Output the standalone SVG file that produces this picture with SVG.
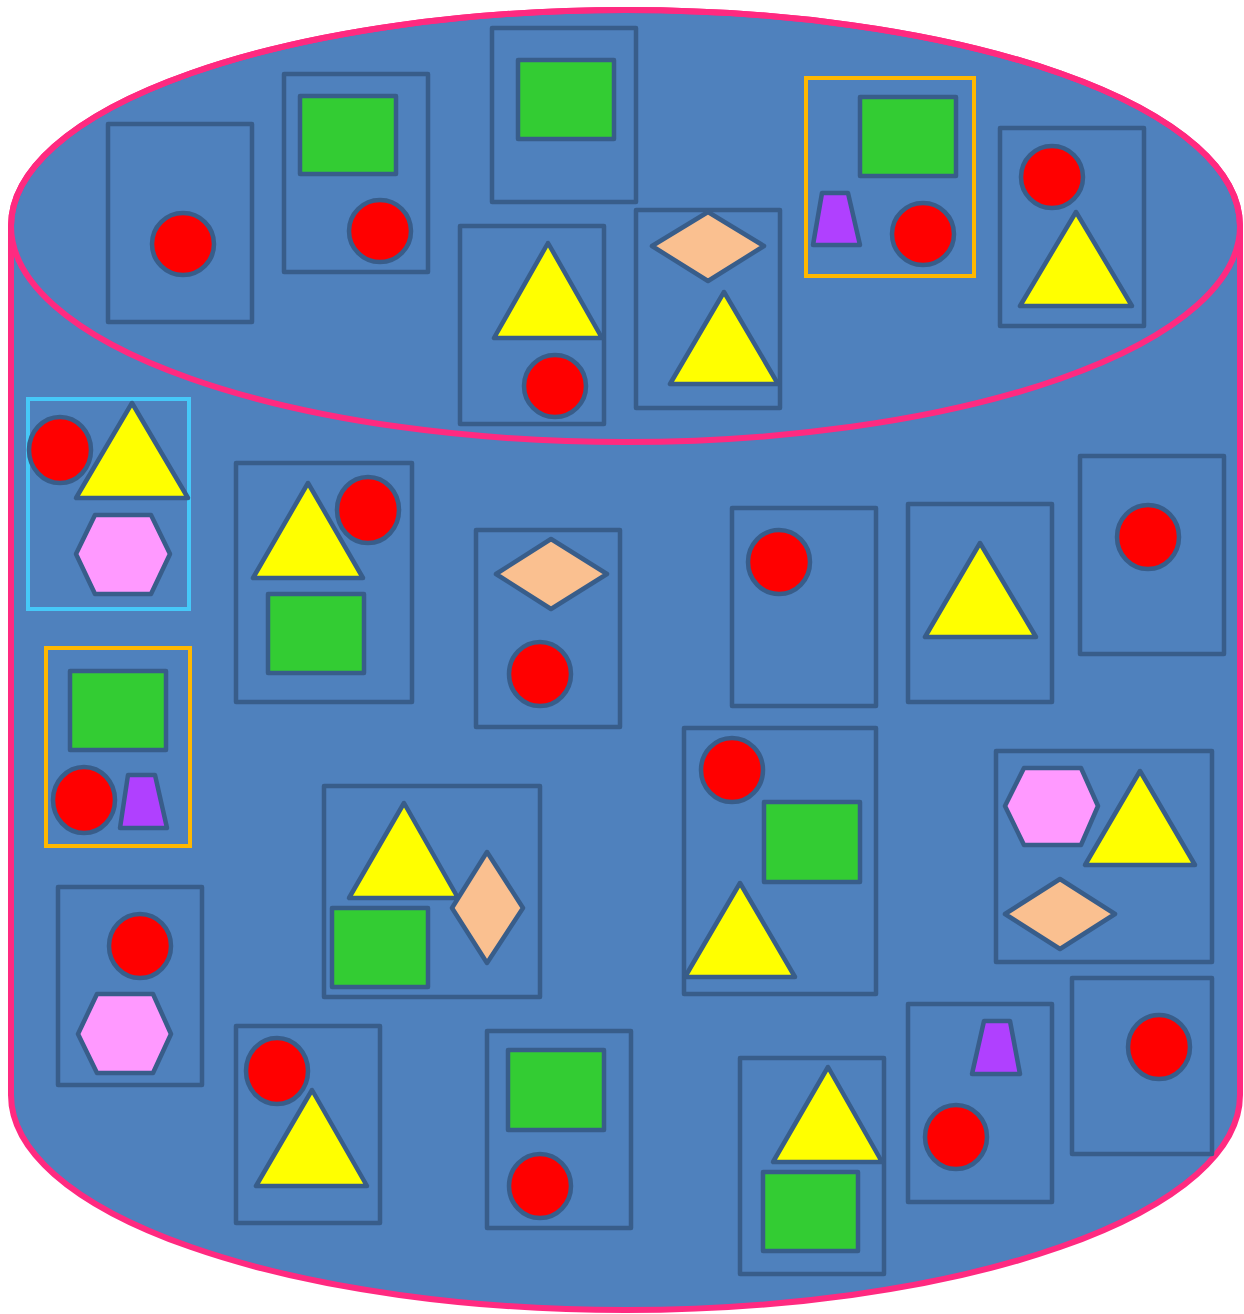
<svg xmlns="http://www.w3.org/2000/svg" width="1244" height="1314" viewBox="0 0 1244 1314">
<style>
.cyl{fill:#4F81BD;stroke:#FF2A80;stroke-width:6}
.top{fill:none;stroke:#FF2A80;stroke-width:6}
.card{fill:none;stroke:#385D8A;stroke-width:4.5;stroke-linejoin:round}
.ocard{fill:none;stroke:#FFB800;stroke-width:4}
.ccard{fill:none;stroke:#46C8F8;stroke-width:4}
.s{stroke:#385D8A;stroke-width:4.5;stroke-linejoin:round}
.r{fill:#FF0000}
.g{fill:#33CC33}
.y{fill:#FFFF00}
.p{fill:#FAC090}
.h{fill:#FF99FF}
.t{fill:#B040FF}
</style>
<g id="cylinder">
<path class="cyl" d="M11,226 A614.5,216 0 0 1 1240,226 L1240,1095 A614.5,215 0 0 1 11,1095 Z"/>
<ellipse class="top" cx="625.5" cy="226" rx="614.5" ry="216"/>
</g>
<g id="card1"><rect class="card" x="108" y="124" width="144" height="198"/><circle class="s r" cx="183" cy="244" r="31"/></g>
<g id="card2"><rect class="card" x="284" y="74" width="144" height="198"/><rect class="s g" x="300" y="96" width="96" height="78"/><circle class="s r" cx="380" cy="231" r="31"/></g>
<g id="card3"><rect class="card" x="492" y="28" width="144" height="174"/><rect class="s g" x="518" y="60" width="96" height="79"/></g>
<g id="card4"><rect class="card" x="460" y="226" width="144" height="198"/><polygon class="s y" points="548,243 494,338 602,338"/><circle class="s r" cx="555" cy="386" r="31"/></g>
<g id="card5"><rect class="card" x="636" y="210" width="144" height="198"/><polygon class="s p" points="708,212 764,246 708,281 652,246"/><polygon class="s y" points="724,292 670,384 778,384"/></g>
<g id="card6"><rect class="ocard" x="806" y="78" width="168" height="198"/><rect class="s g" x="860" y="97" width="96" height="79"/><polygon class="s t" points="822,193 848,193 860,245 813,245"/><circle class="s r" cx="923" cy="234" r="31"/></g>
<g id="card7"><rect class="card" x="1000" y="128" width="144" height="198"/><circle class="s r" cx="1052" cy="177" r="31"/><polygon class="s y" points="1076,212 1020,306 1132,306"/></g>
<g id="card8"><rect class="ccard" x="28" y="399" width="161" height="210"/><ellipse class="s r" cx="60" cy="450" rx="31" ry="33"/><polygon class="s y" points="132,403 76,498 188,498"/><polygon class="s h" points="76,554 95,515 151,515 170,554 151,594 95,594"/></g>
<g id="card9"><rect class="card" x="236" y="463" width="176" height="239"/><polygon class="s y" points="308,483 253,578 363,578"/><ellipse class="s r" cx="368" cy="510" rx="31" ry="33"/><rect class="s g" x="268" y="594" width="96" height="79"/></g>
<g id="card10"><rect class="card" x="476" y="530" width="144" height="197"/><polygon class="s p" points="551,539 607,574 551,609 496,574"/><ellipse class="s r" cx="540" cy="674" rx="31" ry="32"/></g>
<g id="card11"><rect class="card" x="732" y="508" width="144" height="198"/><ellipse class="s r" cx="779" cy="562" rx="31" ry="32"/></g>
<g id="card12"><rect class="card" x="908" y="504" width="144" height="198"/><polygon class="s y" points="980,543 925,637 1036,637"/></g>
<g id="card13"><rect class="card" x="1080" y="456" width="144" height="198"/><ellipse class="s r" cx="1148" cy="537" rx="31" ry="32"/></g>
<g id="card14"><rect class="ocard" x="46" y="648" width="144" height="198"/><rect class="s g" x="70" y="671" width="96" height="79"/><ellipse class="s r" cx="84" cy="800" rx="31" ry="33"/><polygon class="s t" points="128,775 155,775 167,828 120,828"/></g>
<g id="card15"><rect class="card" x="324" y="786" width="216" height="211"/><polygon class="s y" points="404,803 349,898 458,898"/><rect class="s g" x="332" y="908" width="96" height="79"/><polygon class="s p" points="487,852 523,908 487,963 452,908"/></g>
<g id="card16"><rect class="card" x="684" y="728" width="192" height="266"/><ellipse class="s r" cx="732" cy="770" rx="31" ry="32"/><rect class="s g" x="764" y="802" width="96" height="80"/><polygon class="s y" points="740,883 685,977 795,977"/></g>
<g id="card17"><rect class="card" x="996" y="751" width="216" height="211"/><polygon class="s h" points="1005,806 1024,768 1081,768 1098,806 1081,845 1024,845"/><polygon class="s y" points="1140,771 1085,865 1195,865"/><polygon class="s p" points="1060,879 1115,914 1060,949 1005,914"/></g>
<g id="card18"><rect class="card" x="58" y="887" width="144" height="198"/><ellipse class="s r" cx="140" cy="946" rx="31" ry="32"/><polygon class="s h" points="78,1034 97,994 153,994 171,1034 153,1073 97,1073"/></g>
<g id="card19"><rect class="card" x="236" y="1026" width="144" height="197"/><ellipse class="s r" cx="277" cy="1071" rx="31" ry="33"/><polygon class="s y" points="312,1090 256,1186 367,1186"/></g>
<g id="card20"><rect class="card" x="487" y="1031" width="144" height="197"/><rect class="s g" x="508" y="1050" width="96" height="80"/><ellipse class="s r" cx="540" cy="1186" rx="31" ry="32"/></g>
<g id="card21"><rect class="card" x="740" y="1058" width="144" height="216"/><polygon class="s y" points="828,1067 773,1162 882,1162"/><rect class="s g" x="763" y="1172" width="95" height="79"/></g>
<g id="card22"><rect class="card" x="908" y="1004" width="144" height="198"/><polygon class="s t" points="984,1021 1010,1021 1020,1074 972,1074"/><ellipse class="s r" cx="956" cy="1137" rx="31" ry="32"/></g>
<g id="card23"><rect class="card" x="1072" y="978" width="140" height="176"/><ellipse class="s r" cx="1159" cy="1047" rx="31" ry="32"/></g>
</svg>
